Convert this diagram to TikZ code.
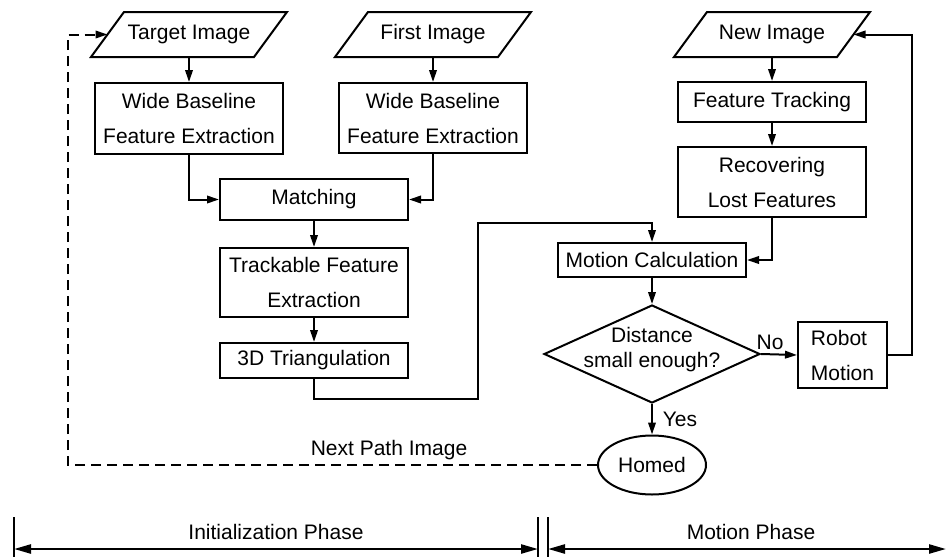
\documentclass[tikz,border=0pt]{standalone}
\usepackage{fontspec}
\setmainfont{Liberation Sans}
\usetikzlibrary{shapes.geometric,arrows.meta}
\begin{document}
\begin{tikzpicture}[x=1pt,y=-1pt,
  line width=2pt,
  every node/.style={font=\fontsize{21}{35}\selectfont},
  proc/.style={draw,rectangle,minimum width=188pt,inner sep=0pt,align=center},
  io/.style={rectangle,minimum width=194pt,minimum height=43pt,inner sep=0pt},
  arr/.style={-{Triangle[length=12pt,width=7.5pt]}},
  phase/.style={{Triangle[length=17pt,width=9pt]}-{Triangle[length=17pt,width=9pt]}},
  dsh/.style={dash pattern=on 10pt off 6pt},
  lbl/.style={inner sep=0pt}
]
\useasboundingbox (0,0) rectangle (947,557);

% input images (parallelograms drawn round named nodes)
\node[io] (timg) at (189,34.5) {Target Image};
\node[io] (fimg) at (433,34.5) {First Image};
\node[io] (nimg) at (772,34.5) {New Image};
\foreach \n in {timg,fimg,nimg}{
  \draw ([xshift=33pt]\n.north west) -- (\n.north east) -- ([xshift=-33pt]\n.south east) -- (\n.south west) -- cycle;
}

% boxes
\node[proc,minimum height=71pt] (b1) at (189,118.5) {Wide Baseline\\Feature Extraction};
\node[proc,minimum height=70pt] (b2) at (433,118) {Wide Baseline\\Feature Extraction};
\node[proc,minimum height=41pt] (match) at (314,199.5) {Matching};
\node[proc,minimum height=69pt] (track) at (314,282.5) {Trackable Feature\\Extraction};
\node[proc,minimum height=35pt] (tri) at (314,360.5) {3D Triangulation};
\node[proc,minimum height=40pt] (ft) at (772,102) {Feature Tracking};
\node[proc,minimum height=70pt] (rec) at (772,182) {Recovering\\Lost Features};
\node[proc,minimum height=34pt] (mc) at (652,260) {Motion Calculation};
\node[draw,rectangle,minimum width=89pt,minimum height=66pt,inner sep=0pt,align=left] (robot) at (842.5,355) {Robot\\Motion};
\node[draw,diamond,minimum width=216pt,minimum height=98pt,inner sep=0pt] (dec) at (652,354) {};
\node[lbl,align=center,font=\fontsize{21}{25}\selectfont] (dtext) at (652,350) {Distance\\small enough?};
\node[draw,ellipse,minimum width=108pt,minimum height=59pt,inner sep=0pt] (homed) at (652,465) {Homed};

% labels
\node[lbl] (no) at (770,342) {No};
\node[lbl] (yes) at (680,419) {Yes};
\node[lbl] (npi) at (389,450) {Next Path Image};

% connectors
\draw[arr] (timg.south) -- (b1.north);
\draw[arr] (fimg.south) -- (b2.north);
\draw[arr] (b1.south) |- (match.west);
\draw[arr] (b2.south) |- (match.east);
\draw[arr] (match.south) -- (track.north);
\draw[arr] (track.south) -- (tri.north);
\coordinate (c1) at (478,399);
\coordinate (c2) at (478,223);
\draw[arr] (tri.south) |- (c1) -- (c2) -| (mc.north);
\draw[arr] (nimg.south) -- (ft.north);
\draw[arr] (ft.south) -- (rec.north);
\draw[arr] (rec.south) |- (mc.east);
\draw[arr] (mc.south) -- (dec.north);
\draw[arr] (dec.east) -- (robot.west);
\draw[arr] (dec.south) -- (homed.north);
\coordinate (c3) at (912,355);
\draw[arr] (robot.east) -- (c3) |- ([xshift=-16.5pt]nimg.east);
\coordinate (d1) at (68,465);
\coordinate (d2) at (68,34.5);
\draw[arr,dsh] (homed.west) -- (d1) -- (d2) -- ([xshift=16.5pt]timg.west);

% phase bars
\coordinate (p1t) at (14,517); \coordinate (p1b) at (14,557);
\coordinate (p2t) at (538,517); \coordinate (p2b) at (538,557);
\coordinate (p3t) at (548,517); \coordinate (p3b) at (548,557);
\coordinate (p1m) at (14,549); \coordinate (p2m) at (538,549);
\coordinate (p3m) at (548,549); \coordinate (p4) at (946,549);
\draw[line width=2.4pt] (p1t) -- (p1b);
\draw[line width=2.4pt] (p2t) -- (p2b);
\draw[line width=2.4pt] (p3t) -- (p3b);
\draw[phase,line width=2.4pt] (p1m) -- (p2m);
\draw[phase,line width=2.4pt] (p3m) -- (p4);
\node[lbl] (ip) at (276,532) {Initialization Phase};
\node[lbl] (mp) at (751,532) {Motion Phase};
\end{tikzpicture}
\end{document}
